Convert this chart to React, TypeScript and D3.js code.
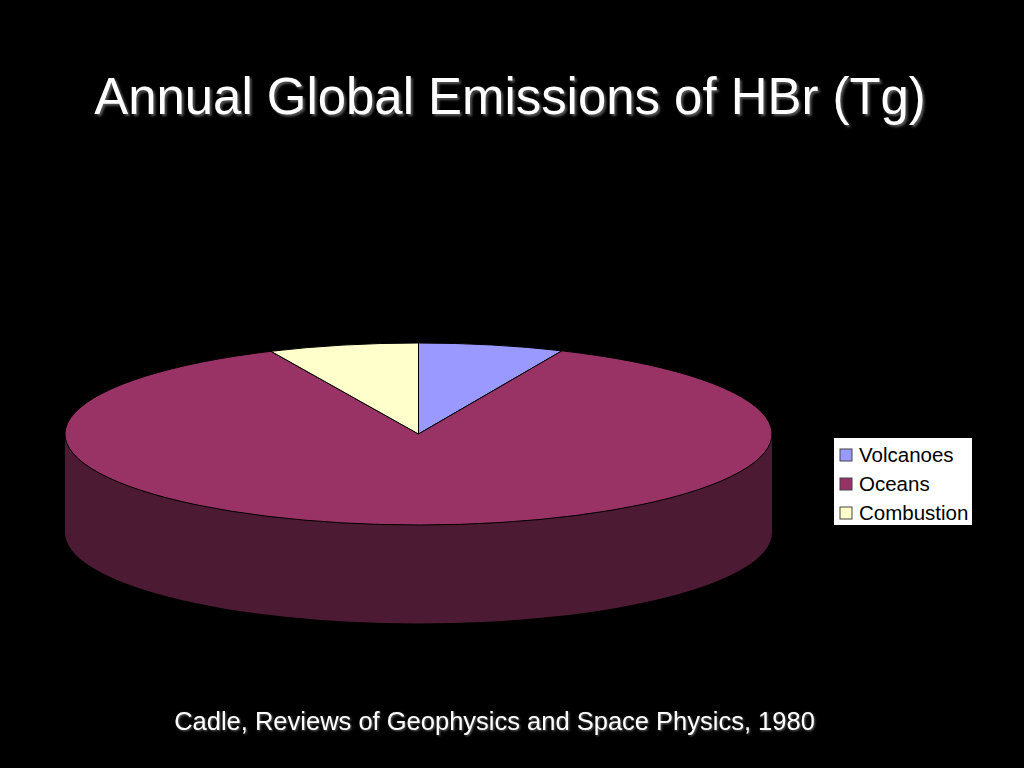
import React from "react";
import * as d3 from "d3";

// shares, in percent
const categories = ["Volcanoes", "Oceans", "Combustion"];
const shares = [6.65, 86.5, 6.85];
const topColors = ["#9999ff", "#993366", "#ffffcc"];
const sideColor = "#4d1a33";
const title = "Annual Global Emissions of HBr (Tg)";
const source = "Cadle, Reviews of Geophysics and Space Physics, 1980";

const width = 1024;
const height = 768;
const font = "'Liberation Sans', Arial, sans-serif";

const cx = 418.5;
const cy = 434;
const rx = 353.5;
const ry = 91;
const depth = 98.5;

export default function App() {
  const pie = d3.pie<number>().sort(null);
  const slices = pie(shares);
  const arc = d3.arc<d3.PieArcDatum<number>>().innerRadius(0).outerRadius(rx);

  // the group below squashes y, so the depth has to be scaled back up
  const squash = ry / rx;
  const d = depth / squash;
  const side = d3.path();
  side.moveTo(-rx, 0);
  side.lineTo(-rx, d);
  side.arc(0, d, rx, Math.PI, 0, true);
  side.lineTo(rx, 0);
  side.arc(0, 0, rx, 0, Math.PI, false);
  side.closePath();

  const legendY = d3
    .scalePoint<string>()
    .domain(categories)
    .range([455, 513]);

  return (
    <svg
      width={width}
      height={height}
      viewBox={`0 0 ${width} ${height}`}
      style={{ position: "fixed", left: 0, top: 0, background: "#000" }}
    >
      <rect width={width} height={height} fill="#000" />

      <text
        x={510}
        y={114}
        fill="#fff"
        fontFamily={font}
        fontSize={50.9}
        textAnchor="middle"
        style={{ filter: "drop-shadow(2px 2px 1px #555)" }}
      >
        {title}
      </text>

      <g transform={`translate(${cx},${cy}) scale(1,${squash})`}>
        <path d={side.toString()} fill={sideColor} />
        {slices.map((s, i) => (
          <path
            key={categories[i]}
            d={arc(s) ?? ""}
            fill={topColors[i]}
            stroke="#000"
            strokeWidth={1}
            vectorEffect="non-scaling-stroke"
          />
        ))}
      </g>

      <rect x={834} y={438} width={138} height={87} fill="#fff" />
      {categories.map((c, i) => (
        <g key={c}>
          <rect
            x={840}
            y={legendY(c)! - 6}
            width={12}
            height={12}
            fill={topColors[i]}
            stroke="#444"
            strokeWidth={1}
          />
          <text
            x={859}
            y={legendY(c)! + 7}
            fill="#000"
            fontFamily={font}
            fontSize={20.5}
          >
            {c}
          </text>
        </g>
      ))}

      <text
        x={494.5}
        y={730}
        fill="#fff"
        fontFamily={font}
        fontSize={25.5}
        textAnchor="middle"
        style={{ filter: "drop-shadow(1px 1px 1px #666)" }}
      >
        {source}
      </text>
    </svg>
  );
}
